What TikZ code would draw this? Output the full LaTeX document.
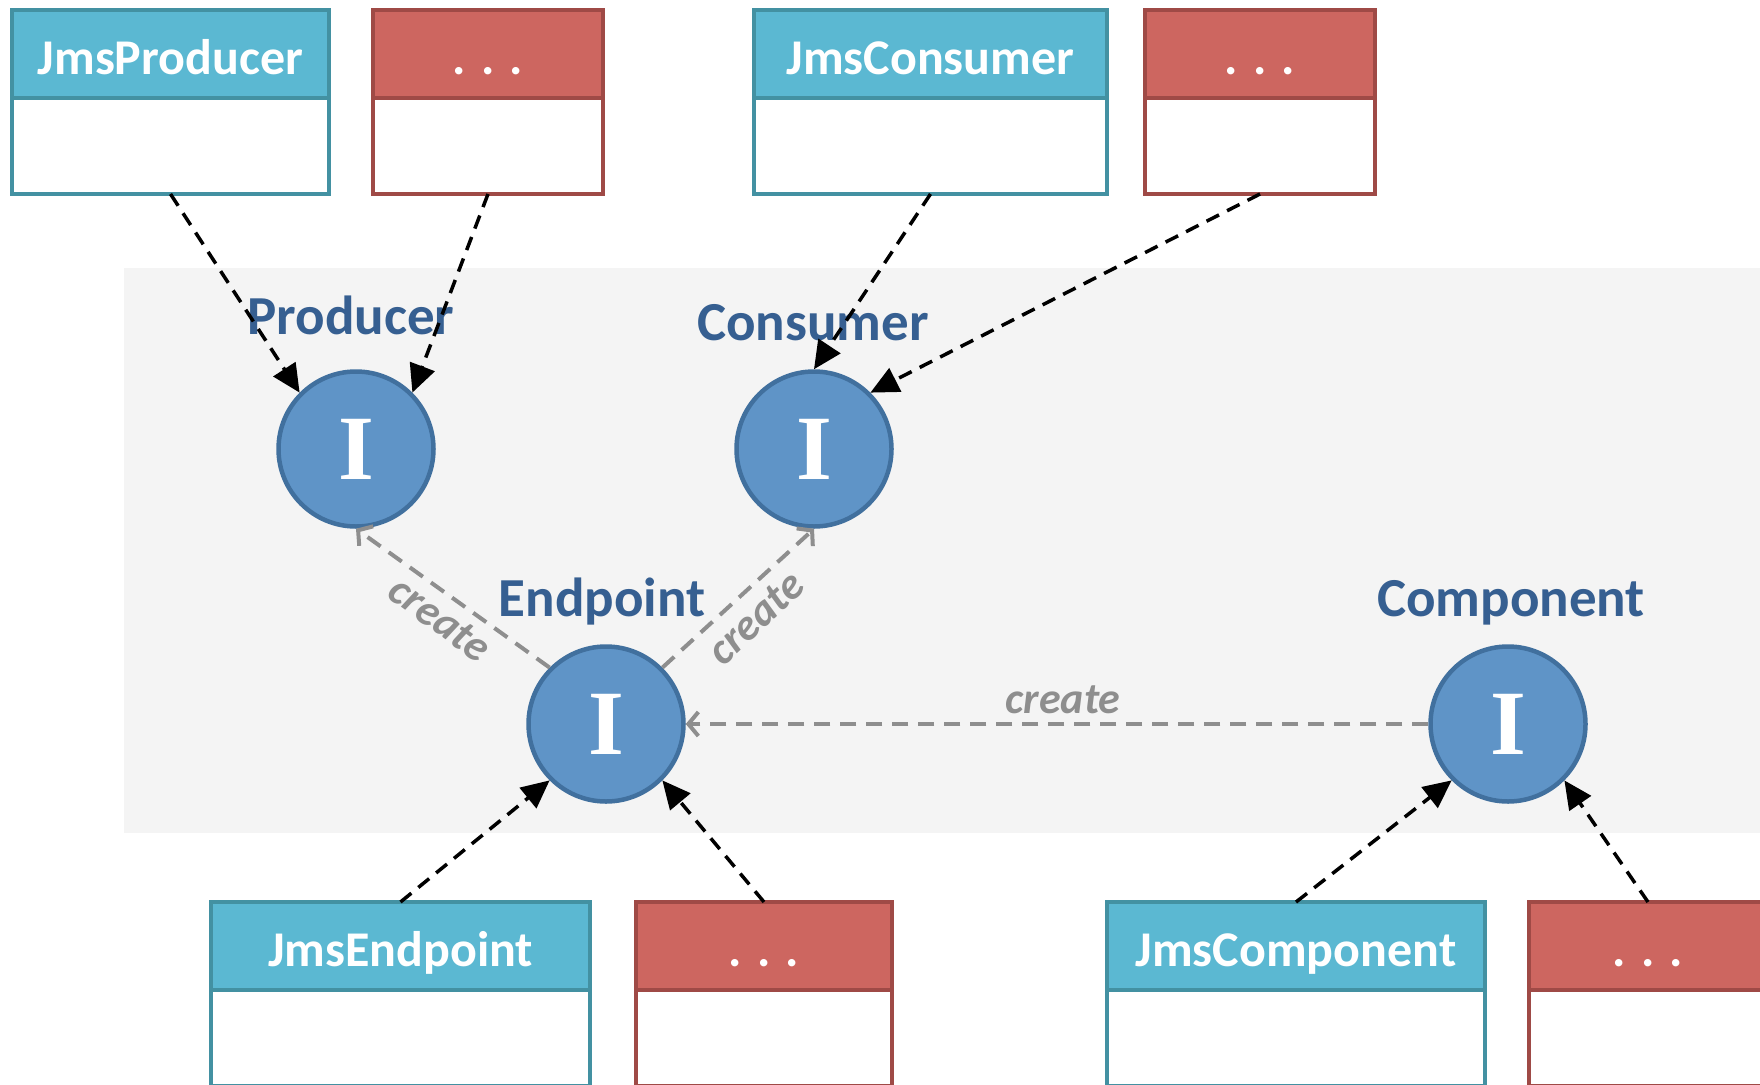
\documentclass[tikz,border=0pt]{standalone}
\usepackage{fontspec}
\setmainfont{Carlito}
\newfontfamily\glyphfont{Liberation Serif}
\usetikzlibrary{arrows.meta}

\definecolor{hdcyan}{HTML}{5BB8D2}
\definecolor{bdcyan}{HTML}{4391A2}
\definecolor{hdred}{HTML}{CD6660}
\definecolor{bdred}{HTML}{9F4A46}
\definecolor{ifill}{HTML}{5F94C7}
\definecolor{iline}{HTML}{41709E}
\definecolor{ititle}{HTML}{365F91}
\definecolor{panel}{HTML}{F4F4F4}
\definecolor{mkgray}{HTML}{8E8E8E}

% class box: name, left x, right x, top y, colour key, title
\newcommand\classbox[6]{%
  \pgfmathsetmacro\boxw{#3-#2}%
  \node[boxbody=bd#5, minimum width=\boxw pt] (#1) at (#2,#4) {};
  \node[boxhead=#5, minimum width=\boxw pt] (#1-head) at (#2,#4) {};
  \node[headtext] (#1-name) at ({(#2+#3)/2},{#4+64}) {#6};
}

\begin{document}
\begin{tikzpicture}[x=1pt,y=-1pt,
  boxbody/.style={draw=#1, line width=4.5pt, fill=white, inner sep=0pt,
    outer sep=0pt, anchor=north west, minimum height=184pt},
  boxhead/.style={draw=bd#1, fill=hd#1, line width=4.5pt, inner sep=0pt,
    outer sep=0pt, anchor=north west, minimum height=88pt},
  headtext/.style={anchor=base, text=white, inner sep=0pt,
    font=\bfseries\fontsize{50}{58}\selectfont},
  iface/.style={circle, fill=ifill, draw=iline, line width=4.5pt,
    minimum size=155pt, inner sep=0pt, text=white,
    font=\glyphfont\bfseries\fontsize{92}{92}\selectfont},
  ititle/.style={anchor=base, text=ititle, inner sep=0pt,
    font=\bfseries\fontsize{55}{62}\selectfont},
  dep/.style={black, line width=3.5pt, dash pattern=on 14pt off 9pt,
    -{Triangle[length=28pt,width=26pt]}},
  creates/.style={mkgray, line width=4pt, dash pattern=on 16pt off 10pt,
    -{Straight Barb[length=10pt,width=24pt]}},
  createtext/.style={text=mkgray, inner sep=0pt,
    font=\bfseries\itshape\fontsize{44}{50}\selectfont},
]
\useasboundingbox (0,0) rectangle (1760,1084);
\clip (0,0) rectangle (1760,1084);

% shaded API area
\fill[panel] (123.5,268.3) rectangle (1770,832.8);

% implementation classes
\classbox{jprod}{12}{329}{10}{cyan}{JmsProducer}
\classbox{oprod}{373}{603}{10}{red}{. . .}
\classbox{jcons}{754}{1107}{10}{cyan}{JmsConsumer}
\classbox{ocons}{1145}{1375}{10}{red}{. . .}
\classbox{jendp}{211}{590}{902}{cyan}{JmsEndpoint}
\classbox{oendp}{636}{892}{902}{red}{. . .}
\classbox{jcomp}{1107}{1485}{902}{cyan}{JmsComponent}
\classbox{ocomp}{1529}{1767}{902}{red}{. . .}

% interfaces
\node[iface] (prod) at (356,449) {I};
\node[iface] (cons) at (814,449) {I};
\node[iface] (endp) at (606,724) {I};
\node[iface] (comp) at (1508,724) {I};

\node[ititle] (prod-title) at (351,334) {Producer};
\node[ititle] (cons-title) at (813,340) {Consumer};
\node[ititle] (endp-title) at (602,616) {Endpoint};
\node[ititle] (comp-title) at (1511,616) {Component};

% realisations
\draw[dep] (jprod.south) -- (prod.135);
\draw[dep] (oprod.south) -- (prod.45);
\draw[dep] (jcons.south) -- (cons.90);
\draw[dep] (ocons.south) -- (cons.45);
\draw[dep] (jendp.north) -- (endp.225);
\draw[dep] (oendp.north) -- (endp.315);
\draw[dep] (jcomp.north) -- (comp.225);
\draw[dep] (ocomp.north) -- (comp.315);

% factory relations
\draw[creates] (endp.135) -- (prod.270);
\draw[creates] (endp.45) -- (cons.270);
\draw[creates] (comp.west) -- (endp.east);

\node[createtext, rotate=-36] (c1) at (440,619) {create};
\node[createtext, rotate=43] (c2) at (756,618) {create};
\node[createtext] (c3) at (1063,700) {create};
\end{tikzpicture}
\end{document}
